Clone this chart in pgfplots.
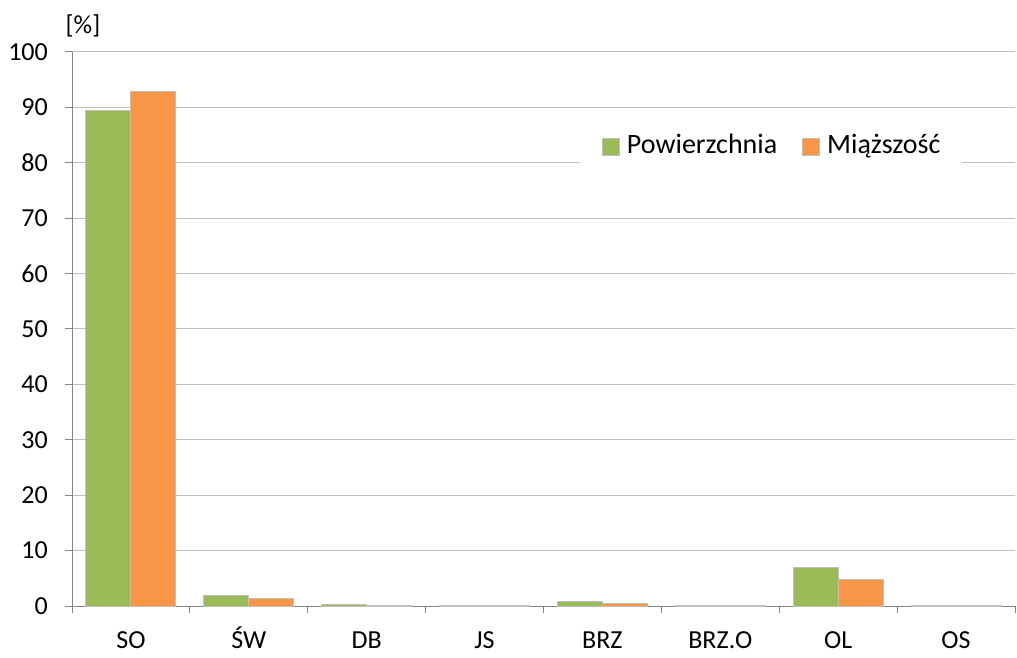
\documentclass[border=0pt]{standalone}
\usepackage{pgfplots}
\pgfplotsset{compat=1.18}
\usepackage{fontspec}
\setmainfont{Carlito}
\definecolor{cgreen}{HTML}{9BBB59}
\definecolor{corange}{HTML}{F79646}
\definecolor{cgrid}{HTML}{C0C0C0}
\definecolor{caxis}{HTML}{868686}
\definecolor{cedge}{HTML}{BFBFBF}
\begin{document}
\begin{tikzpicture}
\begin{axis}[
  at={(0,0)}, anchor=south west,
  scale only axis, width=943bp, height=554bp,
  clip=false,
  ybar=0pt, bar width=45bp,
  xmin=-0.5, xmax=7.5, ymin=0, ymax=100,
  xtick={0,...,7},
  xticklabels={SO,ŚW,DB,JS,BRZ,BRZ.O,OL,OS},
  minor xtick={-0.5,0.5,...,7.5},
  ytick={0,10,...,100},
  axis lines*=left,
  axis line style={caxis, line width=1pt},
  major x tick style={draw=none},
  minor x tick style={caxis, line width=1pt},
  y tick style={caxis, line width=1pt},
  tick align=outside,
  major tick length=7bp, minor tick length=7bp,
  ymajorgrids, grid style={cgrid, line width=1pt},
  tick label style={font=\fontsize{26bp}{31bp}\selectfont, text=black},
  xticklabel style={inner sep=0pt, text height=20bp, text depth=5bp, anchor=north, yshift=-15bp},
  yticklabel style={inner sep=0pt, anchor=east, xshift=-17bp},
  /pgf/number format/assume math mode=true,
  legend style={at={(0.7415,0.83)}, anchor=center, draw=none, fill=white,
    inner xsep=22bp, inner ysep=18bp,
    font=\fontsize{28bp}{33bp}\selectfont, legend columns=2,
    nodes={inner sep=0pt, text height=21bp, text depth=6bp},
    /tikz/every odd column/.style={column sep=7bp},
    /tikz/every even column/.style={column sep=25bp}},
  legend image code/.code={\draw[#1, draw=cedge, line width=1pt] (0bp,-9bp) rectangle (17bp,8bp);},
]
\addplot[fill=cgreen, draw=cedge, line width=1pt] coordinates {(0,89.4) (1,1.9) (2,0.3) (3,0.1) (4,0.85) (5,0.1) (6,7.0) (7,0.1)};
\addplot[fill=corange, draw=cedge, line width=1pt] coordinates {(0,92.8) (1,1.3) (2,0.05) (3,0.05) (4,0.5) (5,0.05) (6,4.7) (7,0.05)};
\legend{Powierzchnia, Miąższość}
\node[font=\fontsize{26bp}{31bp}\selectfont, anchor=center, inner sep=0pt] at ([xshift=11bp,yshift=26bp]rel axis cs:0,1) {[\%]};
\end{axis}
\pgfresetboundingbox
\path (-72bp,-52bp) rectangle (945bp,606bp);
\end{tikzpicture}
\end{document}
